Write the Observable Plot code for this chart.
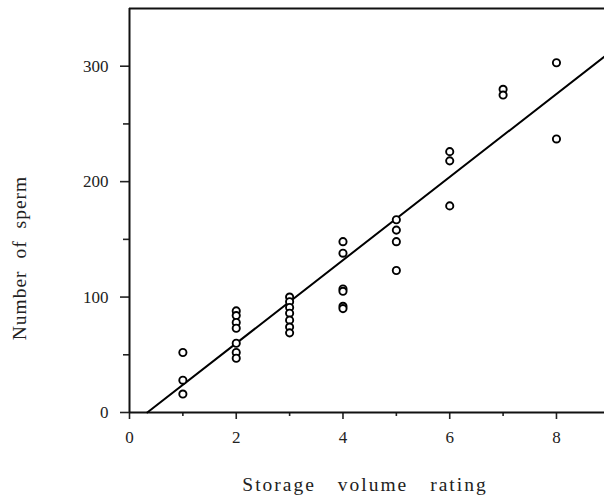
<!DOCTYPE html>
<html>
<head>
<meta charset="utf-8">
<script src="https://cdn.jsdelivr.net/npm/d3@7"></script>
<script src="https://cdn.jsdelivr.net/npm/@observablehq/plot@0.6"></script>
<style>
  html, body { margin: 0; padding: 0; background: #fff; }
</style>
</head>
<body>
<div id="chart"></div>
<script>
// Storage volume rating (x) for each observation
const rating = [
  1, 1, 1,
  2, 2, 2, 2, 2, 2, 2,
  3, 3, 3, 3, 3, 3, 3,
  4, 4, 4, 4, 4, 4,
  5, 5, 5, 5,
  6, 6, 6,
  7, 7,
  8, 8
];
// Number of sperm (y) for each observation
const sperm = [
  52, 28, 16,
  88, 84, 78, 73, 60, 52, 47,
  100, 96, 91, 86, 80, 74, 69,
  148, 138, 107, 105, 92, 90,
  167, 158, 148, 123,
  226, 218, 179,
  280, 275,
  303, 237
];
// Fitted line
const fitSlope = 36;
const fitIntercept = -12;

const xDomain = [0, 8.9];
const yDomain = [0, 350];
const xTicks = [0, 2, 4, 6, 8];
const xMinorTicks = [1, 3, 5, 7];
const yTicks = [0, 100, 200, 300];
const yMinorTicks = [50, 150, 250];
const xLabel = "Storage volume rating";
const yLabel = "Number of sperm";

const data = rating.map((r, i) => ({rating: r, sperm: sperm[i]}));
const fitX = [-fitIntercept / fitSlope, xDomain[1]];
const fit = fitX.map(x => ({x, y: fitSlope * x + fitIntercept}));

const FONT = "'Liberation Serif', 'Times New Roman', serif";

const chart = Plot.plot({
  width: 604,
  height: 497,
  marginLeft: 129,
  marginRight: 0,
  marginTop: 8,
  marginBottom: 85,
  style: {fontFamily: FONT, fontSize: "17px", color: "#222", background: "#fff"},
  x: {domain: xDomain},
  y: {domain: yDomain},
  marks: [
    Plot.axisY(yTicks, {tickSize: 9, tickPadding: 12, strokeWidth: 1.6, label: null, fontSize: 17}),
    Plot.axisY(yMinorTicks, {tickSize: 6, text: null, strokeWidth: 1.6, label: null}),
    Plot.axisX(xTicks, {tickSize: 7, tickPadding: 11, strokeWidth: 1.6, label: null, fontSize: 17}),
    Plot.axisX(xMinorTicks, {tickSize: 4, text: null, strokeWidth: 1.6, label: null}),
    Plot.ruleX([0], {strokeWidth: 2, stroke: "#111"}),
    Plot.ruleY([0], {strokeWidth: 2, stroke: "#111"}),
    Plot.ruleY([yDomain[1]], {strokeWidth: 2, stroke: "#111"}),
    Plot.line(fit, {x: "x", y: "y", stroke: "#000", strokeWidth: 2}),
    Plot.dot(data, {x: "rating", y: "sperm", r: 3.6, stroke: "#000", strokeWidth: 1.9, fill: "#fff"})
  ]
});

const svg = d3.select(chart);
svg.append("text")
  .attr("x", 365)
  .attr("y", 491)
  .attr("text-anchor", "middle")
  .attr("fill", "#222")
  .style("font-family", FONT)
  .style("font-size", "19.5px")
  .style("letter-spacing", "2px")
  .style("word-spacing", "15px")
  .text(xLabel);
svg.append("text")
  .attr("transform", "translate(26,258) rotate(-90)")
  .attr("text-anchor", "middle")
  .attr("fill", "#222")
  .style("font-family", FONT)
  .style("font-size", "19.5px")
  .style("letter-spacing", "1px")
  .style("word-spacing", "6px")
  .text(yLabel);

document.getElementById("chart").appendChild(chart);
</script>
</body>
</html>
